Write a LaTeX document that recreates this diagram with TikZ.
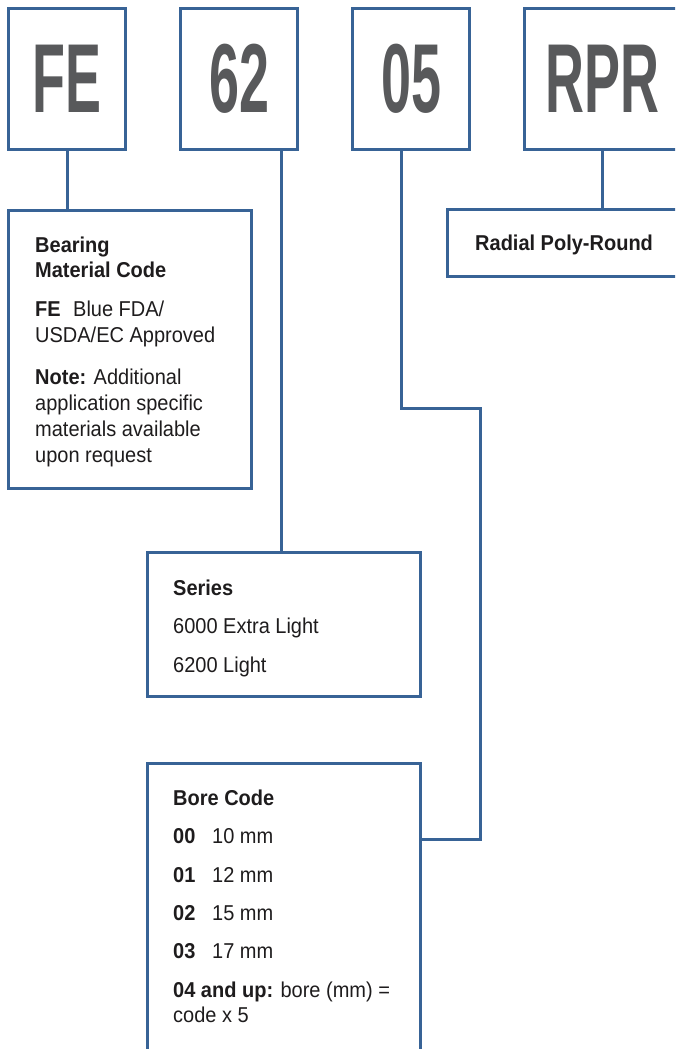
\documentclass[tikz,border=0pt]{standalone}
\usepackage{fontspec}
\usepackage{tikz}
\usetikzlibrary{positioning}
\newfontfamily\infofont[FakeStretch=0.93]{Liberation Sans}
\newfontfamily\codefont[FakeStretch=0.55]{Liberation Sans}
\definecolor{lineblue}{RGB}{56,99,150}
\definecolor{codegray}{RGB}{88,89,91}
\definecolor{inkblack}{RGB}{30,28,29}
\tikzstyle{codebox}=[rectangle,draw=lineblue,line width=2.6pt,minimum width=117pt,minimum height=141pt,inner sep=0pt,text=codegray,font=\codefont\bfseries\fontsize{98}{98}\selectfont]
\tikzstyle{infobox}=[rectangle,draw=lineblue,line width=2.6pt,inner sep=0pt]
\tikzstyle{ln}=[anchor=base west,inner sep=0pt,text=inkblack,font=\infofont\fontsize{21.5}{26}\selectfont]
\tikzstyle{wire}=[draw=lineblue,line width=3pt]

\begin{document}
\begin{tikzpicture}[x=1pt,y=-1pt]
\useasboundingbox (0,0) rectangle (675,1049);
\clip (0,0) rectangle (675,1049);
\node[codebox] (codeFE) at (67,79) {FE};
\node[codebox] (code62) at (239.2,79) {62};
\node[codebox] (code05) at (411.2,79) {05};
\node[codebox,minimum width=156pt] (codeRPR) at (602.3,79) {RPR};
\node[infobox,minimum width=243.4pt,minimum height=277.6pt] (matbox) at (130,349.5) {};
\node[infobox,minimum width=260pt,minimum height=67.4pt] (typebox) at (577.3,243) {};
\node[infobox,minimum width=273.4pt,minimum height=144pt] (seriesbox) at (284,624.7) {};
\node[infobox,minimum width=273.4pt,minimum height=336.7pt] (borebox) at (284,931.7) {};
\coordinate (kneeA) at (480,408);
\coordinate (kneeB) at (480,839);
\draw[wire] (codeFE.south) -- (codeFE.south |- matbox.north);
\draw[wire] ([xshift=-3pt]seriesbox.north |- code62.south) -- ([xshift=-3pt]seriesbox.north);
\draw[wire] ([xshift=-10pt]code05.south) |- (kneeA) -- (kneeB) -- (kneeB -| borebox.east);
\draw[wire] (codeRPR.south) -- (codeRPR.south |- typebox.north);
\node[ln] (mat1) at (35,252) {\bfseries Bearing};
\node[ln] (mat2) at (35,277) {\bfseries Material Code};
\node[ln] (mat3) at (35,316) {\makebox[38pt][l]{\bfseries FE}Blue FDA/};
\node[ln] (mat4) at (35,342) {USDA/EC Approved};
\node[ln] (mat5) at (35,384) {\textbf{Note:} Additional};
\node[ln] (mat6) at (35,410) {application specific};
\node[ln] (mat7) at (35,436) {materials available};
\node[ln] (mat8) at (35,462) {upon request};
\node[ln] (type1) at (475,250) {\bfseries Radial Poly-Round};
\node[ln] (ser1) at (173,595) {\bfseries Series};
\node[ln] (ser2) at (173,633) {6000 Extra Light};
\node[ln] (ser3) at (173,672) {6200 Light};
\node[ln] (bore1) at (173,805) {\bfseries Bore Code};
\node[ln] (bore2) at (173,843) {\makebox[39pt][l]{\bfseries 00}10 mm};
\node[ln] (bore3) at (173,882) {\makebox[39pt][l]{\bfseries 01}12 mm};
\node[ln] (bore4) at (173,920) {\makebox[39pt][l]{\bfseries 02}15 mm};
\node[ln] (bore5) at (173,958) {\makebox[39pt][l]{\bfseries 03}17 mm};
\node[ln] (bore6) at (173,997) {\textbf{04 and up:} bore (mm) =};
\node[ln] (bore7) at (173,1022) {code x 5};
\end{tikzpicture}
\end{document}
